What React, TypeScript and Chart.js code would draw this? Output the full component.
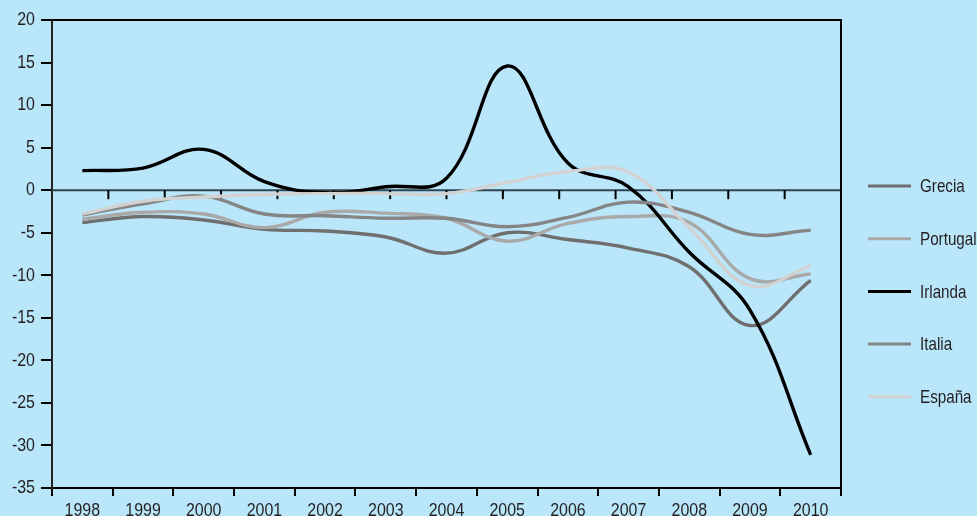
import { useEffect, useRef } from "react";
import { Chart, registerables } from "chart.js";

Chart.register(...registerables);

const years = ["1998", "1999", "2000", "2001", "2002", "2003", "2004", "2005", "2006", "2007", "2008", "2009", "2010"];
const grecia = [-3.8, -3.1, -3.5, -4.6, -4.8, -5.5, -7.4, -5.0, -5.8, -6.8, -9.0, -15.9, -10.6];
const portugal = [-3.4, -2.6, -2.8, -4.4, -2.6, -2.7, -3.3, -6.0, -3.9, -3.1, -3.8, -10.4, -9.85];
const irlanda = [2.3, 2.6, 4.8, 1.0, -0.3, 0.4, 1.4, 14.6, 3.2, 0.4, -7.3, -14.1, -31.1];
const italia = [-2.9, -1.6, -0.7, -2.8, -3.0, -3.3, -3.3, -4.3, -3.2, -1.4, -2.6, -5.2, -4.7];
const espana = [-2.8, -1.3, -0.8, -0.5, -0.4, -0.4, -0.4, 0.9, 2.2, 2.1, -4.4, -11.2, -8.9];
const yMin = -35;
const yMax = 20;
const yStep = 5;

const FONT = "'Liberation Sans', Arial, sans-serif";
const BG = "#bae6fa";
const TEXT = "#231f20";

function condensedText(ctx: any, text: string, x: number, y: number, align: string, baseline: string, sx: number) {
  ctx.save();
  ctx.translate(x, y);
  ctx.scale(sx, 1);
  ctx.textAlign = align;
  ctx.textBaseline = baseline;
  ctx.fillText(text, 0, 0);
  ctx.restore();
}

const framePlugin = {
  id: "frame",
  beforeDatasetsDraw(chart: any) {
    const { ctx, chartArea: a, scales } = chart;
    const y0 = scales.y.getPixelForValue(0);
    ctx.save();
    ctx.strokeStyle = "#2f4652";
    ctx.lineWidth = 2;
    ctx.beginPath();
    ctx.moveTo(a.left, y0);
    ctx.lineTo(a.right, y0);
    ctx.stroke();
    ctx.strokeStyle = "#000";
    const n = 14;
    for (let k = 1; k < n; k++) {
      const x = a.left + ((a.right - a.left) * k) / n;
      ctx.beginPath();
      ctx.moveTo(x, y0);
      ctx.lineTo(x, y0 + 9);
      ctx.stroke();
    }
    ctx.restore();
  },
  afterDraw(chart: any) {
    const { ctx, chartArea: a, scales } = chart;
    ctx.save();
    ctx.strokeStyle = "#000";
    ctx.lineWidth = 2;
    ctx.beginPath();
    ctx.moveTo(a.left, a.top);
    ctx.lineTo(a.right, a.top);
    ctx.lineTo(a.right, a.bottom);
    ctx.stroke();

    ctx.fillStyle = TEXT;
    ctx.font = `19px ${FONT}`;
    // y tick labels
    for (const t of scales.y.ticks) {
      const y = scales.y.getPixelForValue(t.value);
      condensedText(ctx, String(t.value), a.left - 17, y, "right", "middle", 0.84);
    }
    // x tick labels
    const labels = chart.data.labels;
    for (let i = 0; i < labels.length; i++) {
      const x = scales.x.getPixelForValue(i);
      condensedText(ctx, labels[i], x, a.bottom + 28, "center", "alphabetic", 0.84);
    }
    // legend
    const ds = chart.data.datasets;
    for (let i = 0; i < ds.length; i++) {
      const y = a.top + 166 + i * 52.7;
      ctx.strokeStyle = ds[i].borderColor;
      ctx.lineWidth = 3;
      ctx.beginPath();
      ctx.moveTo(a.right + 27, y);
      ctx.lineTo(a.right + 70, y);
      ctx.stroke();
      ctx.fillStyle = TEXT;
      condensedText(ctx, ds[i].label, a.right + 79, y + 1, "left", "middle", 0.8);
    }
    ctx.restore();
  },
};

export default function App() {
  const ref = useRef<HTMLCanvasElement>(null);
  useEffect(() => {
    const mk = (label: string, data: number[], color: string, order: number, width = 3.4) => ({
      label,
      data,
      borderColor: color,
      backgroundColor: color,
      borderWidth: width,
      pointRadius: 0,
      tension: 0.4,
      fill: false,
      order,
    });
    const chart = new Chart(ref.current!, {
      type: "line",
      data: {
        labels: years,
        datasets: [
          mk("Grecia", grecia, "#6f6f6f", 4),
          mk("Portugal", portugal, "#a9a9a9", 3),
          mk("Irlanda", irlanda, "#000000", 2),
          mk("Italia", italia, "#858585", 1),
          mk("España", espana, "#d2d2d2", 0),
        ],
      },
      options: {
        animation: false,
        responsive: true,
        maintainAspectRatio: false,
        layout: { padding: { top: 20, right: 136, left: 0, bottom: 0 } },
        plugins: { legend: { display: false }, tooltip: { enabled: false } },
        scales: {
          x: {
            type: "category",
            offset: true,
            grid: { offset: true, drawOnChartArea: false, drawTicks: true, tickLength: 8, color: "#000", lineWidth: 2 },
            border: { display: true, color: "#000", width: 2 },
            ticks: { display: false, autoSkip: false },
            afterFit: (s: any) => {
              s.height = 28;
            },
          },
          y: {
            min: yMin,
            max: yMax,
            grid: { drawOnChartArea: false, drawTicks: true, tickLength: 11, color: "#000", lineWidth: 2 },
            border: { display: true, color: "#222", width: 2 },
            ticks: { stepSize: yStep, display: false },
            afterFit: (s: any) => {
              s.width = 52;
            },
          },
        },
      },
      plugins: [framePlugin],
    });
    return () => chart.destroy();
  }, []);
  return (
    <div style={{ position: "fixed", left: 0, top: 0, width: 977, height: 516, background: BG }}>
      <canvas ref={ref} />
    </div>
  );
}
